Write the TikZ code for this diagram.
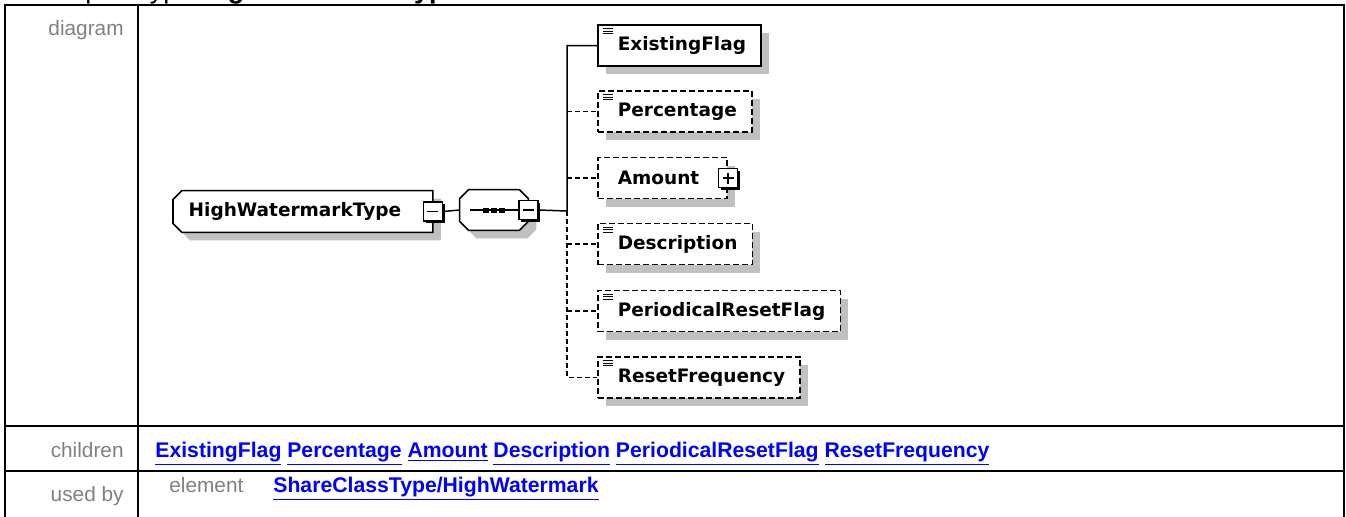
\documentclass[tikz,border=0pt]{standalone}
\usepackage{fontspec}
\setmainfont{Liberation Sans}
\newfontfamily\diagfont{DejaVu Sans}
\usetikzlibrary{positioning, shadows, backgrounds}

\definecolor{boxshadow}{RGB}{192,192,192}
\definecolor{rowgray}{RGB}{128,128,128}
\definecolor{linkblue}{RGB}{0,0,255}

\tikzset{
  boxshade/.style={drop shadow={shadow xshift=4pt, shadow yshift=-4pt, fill=boxshadow, opacity=1}},
  element/.style={draw, fill=white, boxshade, anchor=west, line width=0.8pt,
    minimum height=20.5pt, inner xsep=7.5pt, inner ysep=0pt,
    font=\diagfont\bfseries\fontsize{9.25}{11}\selectfont},
  optional/.style={element, dash pattern=on 3pt off 1.5pt},
  simpletype/.style={execute at begin node=\hspace*{2.5pt},
    path picture={
      \foreach \dy in {1.8pt,3.1pt,4.4pt}
        \draw[solid, line width=0.5pt] ([xshift=2.5pt, yshift=-\dy]path picture bounding box.north west) -- ++(5pt,0pt);
    }},
  expander/.style={draw, fill=white, line width=0.8pt, minimum size=9.5pt, inner sep=0pt,
    drop shadow={shadow xshift=1.2pt, shadow yshift=-1.2pt, fill=black, opacity=1}},
  minus/.style={expander, path picture={
      \draw[solid, line width=0.7pt] ([xshift=2pt]path picture bounding box.west) -- ([xshift=-2pt]path picture bounding box.east);}},
  plus/.style={expander, path picture={
      \draw[solid, line width=0.7pt] ([xshift=2pt]path picture bounding box.west) -- ([xshift=-2pt]path picture bounding box.east);
      \draw[solid, line width=0.7pt] ([yshift=2pt]path picture bounding box.south) -- ([yshift=-2pt]path picture bounding box.north);}},
  outline/.style={fill=white, line width=0.8pt, boxshade},
  conn/.style={line width=0.75pt},
  optconn/.style={conn, dash pattern=on 2.5pt off 1.5pt},
  rowlabel/.style={anchor=base east, inner sep=0pt, text=rowgray, font=\fontsize{10.4}{12}\selectfont},
  linktext/.style={anchor=base west, inner sep=0pt, text=linkblue, font=\bfseries\fontsize{10.6}{12}\selectfont},
}

\begin{document}
\begin{tikzpicture}[x=0.5pt, y=-0.5pt]
  \useasboundingbox (0,0) rectangle (1346,516);
  \clip (0,0) rectangle (1346,516);

  % table frame
  \draw[line width=1pt] (5,5) rectangle (1344,540);
  \draw[line width=1pt] (138,5) -- (138,540);
  \draw[line width=1pt] (5,426) -- (1344,426);
  \draw[line width=1pt] (5,471) -- (1344,471);

  % heading, cut off by the top edge
  \node[anchor=base west, inner sep=0pt, font=\fontsize{13.5}{16}\selectfont] (heading) at (34,-2) {complexType \textbf{HighWatermarkType}};

  \node[rowlabel] (diagramlbl) at (124,35) {diagram};
  \node[rowlabel] (childrenlbl) at (124,457) {children};
  \node[rowlabel] (usedbylbl) at (124,501) {used by};

  % complex type and sequence (outlines go on the background layer)
  \node (hwt) [anchor=west, minimum width=129.5pt, minimum height=20.5pt, inner xsep=7pt, inner ysep=0pt,
    execute at end node=\hspace*{8pt}, font=\diagfont\bfseries\fontsize{9.25}{11}\selectfont] at (173,211.5) {HighWatermarkType};
  \node (seq) [minimum width=34pt, minimum height=20pt, inner sep=0pt] at (494,210) {};
  \begin{scope}[on background layer]
    \filldraw[outline] ([xshift=4.5pt]hwt.north west) -- (hwt.north east) -- (hwt.south east)
      -- ([xshift=4.5pt]hwt.south west) -- ([yshift=4.5pt]hwt.south west) -- ([yshift=-4.5pt]hwt.north west) -- cycle;
    \filldraw[outline] ([xshift=4.5pt]seq.north west) -- ([xshift=-4.5pt]seq.north east) -- ([yshift=-4.5pt]seq.north east)
      -- ([yshift=4.5pt]seq.south east) -- ([xshift=-4.5pt]seq.south east) -- ([xshift=4.5pt]seq.south west)
      -- ([yshift=4.5pt]seq.south west) -- ([yshift=-4.5pt]seq.north west) -- cycle;
  \end{scope}
  \draw[line width=1pt] ([xshift=-12pt]seq.center) -- ([xshift=12pt]seq.center);
  \foreach \dx in {-4pt,0pt,4pt}
    \fill[black] ([xshift=\dx]seq.center) ++(-1.5pt,-1.25pt) rectangle ++(3pt,2.5pt);
  \node[minus] (hwtexp) at (hwt.east) {};
  \node[minus] (seqexp) at (seq.east) {};

  % child elements
  \node[element, simpletype] (existing) at (597,45.5) {ExistingFlag};
  \node[optional, simpletype] (percentage) at (597,111.5) {Percentage};
  \node[optional, execute at begin node=\hspace*{2.5pt}, execute at end node=\hspace*{6.5pt}] (amount) at (597,178) {Amount};
  \node[plus] (amountexp) at (amount.east) {};
  \node[optional, simpletype] (description) at (597,244) {Description};
  \node[optional, simpletype] (periodical) at (597,311) {PeriodicalResetFlag};
  \node[optional, simpletype] (resetfreq) at (597,377.5) {ResetFrequency};

  % connectors
  \coordinate (bus) at (567,211);
  \draw[conn] (hwtexp.east) -- (seq.west);
  \draw[conn] (seqexp.east) -- (bus) |- (existing.west);
  \draw[optconn] (bus) |- (resetfreq.west);
  \foreach \n in {percentage, amount, description, periodical}
    \draw[optconn] (bus |- \n.west) -- (\n.west);

  % lower rows
  \node[linktext] (childlinks) at (155,457) {\underline{ExistingFlag} \underline{Percentage} \underline{Amount} \underline{Description} \underline{PeriodicalResetFlag} \underline{ResetFrequency}};
  \node[rowlabel, anchor=base west] (elementlbl) at (169,492) {element};
  \node[linktext] (usedlink) at (273,492) {\underline{ShareClassType/HighWatermark}};
\end{tikzpicture}
\end{document}
